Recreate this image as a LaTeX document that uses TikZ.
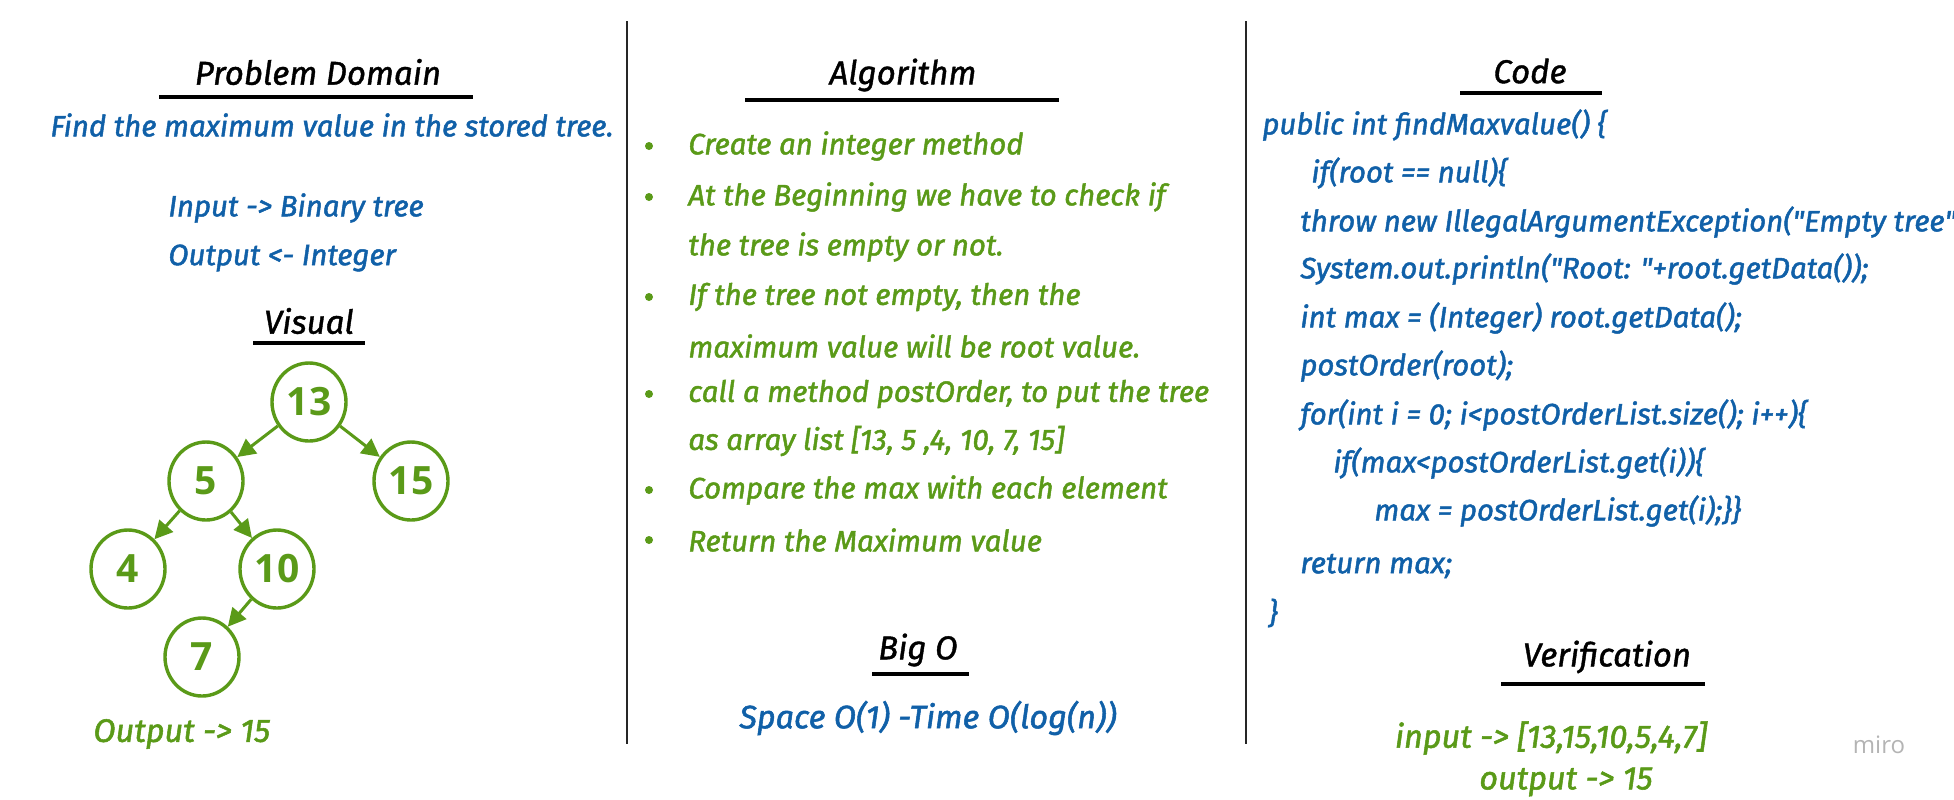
\documentclass[tikz,border=0pt]{standalone}
\usepackage{fontspec}
\setmainfont{Fira Sans}
\newfontfamily\hand{Fira Sans}[FakeBold=1.6]
\newfontfamily\handt{Fira Sans}[FakeBold=1.2]
\newfontfamily\numfont{Open Sans}
\usetikzlibrary{arrows.meta,shapes.geometric}
\definecolor{hblue}{HTML}{1060A8}
\definecolor{hgreen}{HTML}{5A9A18}
\definecolor{mirogray}{HTML}{B4B4B4}
\begin{document}
\begin{tikzpicture}[x=0.5pt,y=-0.5pt,
  txt/.style={inner sep=0pt,font=\hand\fontsize{14.7}{17}\selectfont\itshape},
  bigtxt/.style={inner sep=0pt,font=\hand\fontsize{16.2}{18}\selectfont\itshape},
  bluetxt/.style={txt,text=hblue},
  greentxt/.style={txt,text=hgreen},
  codetxt/.style={txt,text=hblue,anchor=west},
  algtxt/.style={txt,text=hgreen,anchor=west},
  title/.style={inner sep=0pt,font=\handt\fontsize{16.5}{20}\selectfont\itshape,text=black},
  uline/.style={line width=1.6pt,black},
  divider/.style={line width=1.2pt,black!85},
  tnode/.style={ellipse,draw=hgreen,line width=1.7pt,minimum width=37pt,minimum height=39pt,inner sep=0pt,text=hgreen,font=\numfont\bfseries\fontsize{19.5}{22}\selectfont},
  tedge/.style={draw=hgreen,line width=1.5pt,-{Triangle[length=9pt,width=9pt]}},
  dotb/.style={circle,fill=hgreen,inner sep=0pt,minimum size=4pt}
]
\clip (0,0) rectangle (1954,799);
\fill[white] (0,0) rectangle (1954,799);

% dividers
\draw[divider] (627,21) -- (627,744);
\draw[divider] (1246,21) -- (1246,744);

% ---------- Problem domain ----------
\node[title] (pdt) at (318,72) {Problem Domain};
\draw[uline] (159,97) -- (473,97);
\node[bluetxt] (find) at (332,125) {Find the maximum value in the stored tree.};
\node[bluetxt,anchor=west] (inp) at (168,208) {Input -> Binary tree};
\node[bluetxt,anchor=west] (outp) at (168,258) {Output <- Integer};

\node[title] (vis) at (309,321) {Visual};
\draw[uline] (253,343) -- (365,343);

\node[tnode] (n13) at (309,402) {13};
\node[tnode] (n5) at (206,481) {5};
\node[tnode] (n15) at (411,481) {15};
\node[tnode] (n4) at (128,569) {4};
\node[tnode] (n10) at (277,569) {10};
\node[tnode] (n7) at (202,657) {7};
\draw[tedge] (n13) -- (n5);
\draw[tedge] (n13) -- (n15);
\draw[tedge] (n5) -- (n4);
\draw[tedge] (n5) -- (n10);
\draw[tedge] (n10) -- (n7);

\node[bigtxt,text=hgreen,anchor=west] (vout) at (93,734) {Output -> 15};

% ---------- Algorithm ----------
\node[title] (algt) at (903,75) {Algorithm};
\draw[uline] (745,100) -- (1059,100);

\foreach \yy in {146,197,297,394,490,540}
  \node[dotb] at (649,\yy) {};
\node[algtxt] (a1) at (688,146) {Create an integer method};
\node[algtxt] (a2) at (688,197) {At the Beginning we have to check if};
\node[algtxt] (a3) at (688,247) {the tree is empty or not.};
\node[algtxt] (a4) at (688,297) {If the tree not empty, then the};
\node[algtxt] (a5) at (688,346) {maximum value will be root value.};
\node[algtxt] (a6) at (688,394) {call a method postOrder, to put the tree};
\node[algtxt] (a7) at (688,441) {as array list [13, 5 ,4, 10, 7, 15]};
\node[algtxt] (a8) at (688,490) {Compare the max with each element};
\node[algtxt] (a9) at (688,540) {Return the Maximum value};

\node[title] (bigo) at (918,650) {Big O};
\draw[uline] (872,674) -- (969,674);
\node[bigtxt,text=hblue] (sp) at (928,718) {Space O(1) -Time O(log(n))};

% ---------- Code ----------
\node[title] (codet) at (1530,71) {Code};
\draw[uline] (1460,93) -- (1602,93);

\node[codetxt] (c1) at (1262,125) {public int findMaxvalue() \{};
\node[codetxt] (c2) at (1311,173) {if(root == null)\{};
\node[codetxt] (c3) at (1300,222) {throw new IllegalArgumentException("Empty tree"};
\node[codetxt] (c4) at (1300,269) {System.out.println("Root: "+root.getData());};
\node[codetxt] (c5) at (1300,318) {int max = (Integer) root.getData();};
\node[codetxt] (c6) at (1300,366) {postOrder(root);};
\node[codetxt] (c7) at (1300,415) {for(int i = 0; i<postOrderList.size(); i++)\{};
\node[codetxt] (c8) at (1333,463) {if(max<postOrderList.get(i))\{};
\node[codetxt] (c9) at (1374,511) {max = postOrderList.get(i);\}\}};
\node[codetxt] (c10) at (1300,566) {return max;};
\node[codetxt] (c11) at (1268,613) {\}};

\node[title] (vert) at (1607,657) {Verification};
\draw[uline] (1501,684) -- (1705,684);
\node[bigtxt,text=hgreen] (vin) at (1551,738) {input -> [13,15,10,5,4,7]};
\node[bigtxt,text=hgreen] (vo) at (1566,782) {output -> 15};

\node[inner sep=0pt,text=mirogray,font=\numfont\fontsize{12}{14}\selectfont] (miro) at (1879,745) {miro};
\end{tikzpicture}
\end{document}
